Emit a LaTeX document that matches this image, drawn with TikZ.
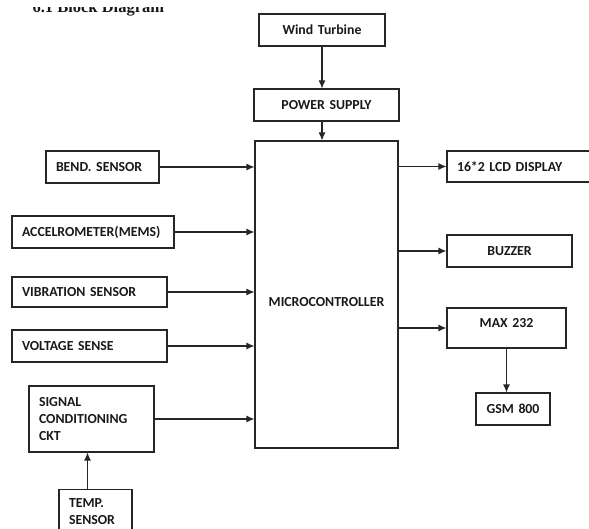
\documentclass[tikz,border=0pt]{standalone}
\usepackage{fontspec}
\setmainfont{Carlito}
\newfontfamily\headfont{Liberation Serif}
\usepackage{tikz}
\usetikzlibrary{positioning, arrows.meta}

\begin{document}
\begin{tikzpicture}[
        x=1pt, y=-1pt,
        >={Latex[length=8pt, width=7pt]},
        every node/.style={font=\bfseries\fontsize{13.8}{17}\selectfont, text=black!90},
        block/.style={draw=black!85, line width=1.1pt, rectangle, inner xsep=10pt, inner ysep=2pt, minimum height=32pt},
        lblock/.style={block, align=left},
        cblock/.style={block, align=center},
        link/.style={->, line width=1.1pt, draw=black!85},
    ]
        \useasboundingbox (0,0) rectangle (589,529);
        % heading, cut off at the top as in the scan
        \begin{scope}
            \clip (0,8) rectangle (250,20);
            \node[anchor=base west, font=\headfont\bfseries\fontsize{16.5}{18}\selectfont] (title) at (29,13) {6.1 Block Diagram};
        \end{scope}

        \node[cblock, text width=106pt] (wind) at (322,30) {Wind Turbine};
        \node[cblock, text width=125pt] (power) at (326.5,105) {POWER SUPPLY};
        \node[cblock, text width=123pt, minimum height=307pt, text height=24pt] (micro) at (326.5,294.5) {MICROCONTROLLER};

        % inputs
        \node[lblock, text width=93pt] (bend) at (102.5,167) {BEND. SENSOR};
        \node[lblock, text width=142pt] (accel) at (93,232) {ACCELROMETER(MEMS)};
        \node[lblock, text width=135pt, minimum height=30pt] (vib) at (89.5,292) {VIBRATION SENSOR};
        \node[lblock, text width=135pt] (volt) at (89.5,346) {VOLTAGE SENSE};
        \node[lblock, text width=105pt, minimum height=66pt] (sig) at (91.5,419) {SIGNAL\\CONDITIONING\\CKT};
        \node[lblock, text width=53pt, minimum height=44pt, anchor=north] (temp) at (95.5,489) {TEMP.\\SENSOR};

        % outputs
        \node[lblock, text width=133pt, minimum height=31pt] (lcd) at (523.5,166.5) {16*2 LCD DISPLAY};
        \node[cblock, text width=105pt] (buzzer) at (509.5,251) {BUZZER};
        \node[cblock, text width=99pt, minimum height=40pt, text depth=10pt] (max232) at (506.5,328) {MAX 232};
        \node[cblock, text width=54pt] (gsm) at (513,409) {GSM 800};

        \draw[link] (wind.south) -- (wind.south |- power.north);
        \draw[link] (wind.south |- power.south) -- (wind.south |- micro.north);
        \foreach \s in {bend, accel, vib, volt, sig}
            \draw[link] (\s) -- (\s -| micro.west);
        \foreach \t in {lcd, buzzer, max232}
            \draw[link] (micro.east |- \t) -- (\t);
        \draw[link] (max232) -- (max232 |- gsm.north);
        \draw[link] ([xshift=-8pt]temp.north) -- ([xshift=-8pt]temp.north |- sig.south);
    \end{tikzpicture}
\end{document}
